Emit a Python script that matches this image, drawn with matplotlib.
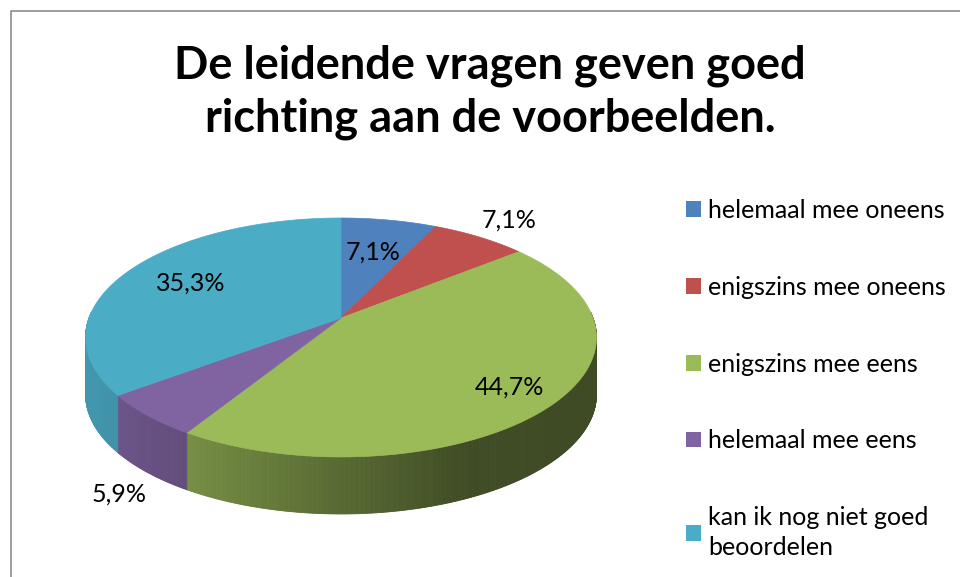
import numpy as np
import matplotlib
matplotlib.use("Agg")
import matplotlib.pyplot as plt
from matplotlib.patches import Patch
from matplotlib.colors import to_rgb

# ---- data ----
title = "De leidende vragen geven goed\nrichting aan de voorbeelden."
categories = ["helemaal mee oneens", "enigszins mee oneens", "enigszins mee eens",
              "helemaal mee eens", "kan ik nog niet goed\nbeoordelen"]
values = [7.1, 7.1, 44.7, 5.9, 35.3]
labels = ["7,1%", "7,1%", "44,7%", "5,9%", "35,3%"]
colors = ["#4f81bd", "#c0504d", "#9bbb59", "#8064a2", "#4bacc6"]

# ---- style / geometry ----
W, H = 960, 577
cx, cy = 341, 318          # pie centre (pixels)
R, RK, P = 252, 116.3, 0.163
DEPTH = 57
label_r = [0.64, 1.25, 0.815, 1.13, 0.7]
label_dy = [0, 0, 0, DEPTH + 7, 0]
FONT = "Lato"

fig = plt.figure(figsize=(W / 100, H / 100), dpi=100)
ax = fig.add_axes([0, 0, 1, 1])
ax.set_xlim(0, W)
ax.set_ylim(H, 0)
ax.axis("off")

def proj(theta, r=1.0, z=0.0):
    u = r * np.cos(theta)
    v = r * np.sin(theta)
    s = 1.0 / (1.0 + P * v)
    return cx + R * u * s, cy - RK * v * s + z

def shade(x):
    t = np.clip((x - 90) / (470 - 90), 0, 1)
    return 0.88 - 0.48 * t

vals = np.array(values, dtype=float)
frac = vals / vals.sum()
bounds = np.concatenate([[0], np.cumsum(frac)])
# clockwise from 12 o'clock
start_ang = np.pi / 2 - 2 * np.pi * bounds[:-1]
end_ang = np.pi / 2 - 2 * np.pi * bounds[1:]

# side walls
for a0, a1, col in zip(start_ang, end_ang, colors):
    ts = np.linspace(a0, a1, max(4, int(abs(a1 - a0) * 180)))
    base = np.array(to_rgb(col))
    for t0, t1 in zip(ts[:-1], ts[1:]):
        if np.sin(0.5 * (t0 + t1)) > 0.05:
            continue
        x0, y0 = proj(t0)
        x1, y1 = proj(t1)
        c = base * shade(0.5 * (x0 + x1))
        ax.fill([x0, x1, x1, x0], [y0, y1, y1 + DEPTH, y0 + DEPTH],
                color=c, lw=0.6, ec=c, zorder=2)

# top faces
handles = []
for a0, a1, col in zip(start_ang, end_ang, colors):
    ts = np.linspace(a0, a1, 200)
    xs, ys = proj(ts)
    xs = np.concatenate([[cx], xs])
    ys = np.concatenate([[cy], ys])
    ax.fill(xs, ys, color=col, lw=0.5, ec=col, zorder=3)
    handles.append(Patch(facecolor=col, edgecolor="none"))

# data labels
for a0, a1, lab, rf, dz in zip(start_ang, end_ang, labels, label_r, label_dy):
    mid = 0.5 * (a0 + a1)
    x, y = proj(mid, rf, dz)
    ax.text(x, y, lab, ha="center", va="center", fontsize=18,
            family=FONT, color="black", zorder=5)

# title
fig.text(490 / W, 1 - 92 / H, title, ha="center", va="center",
         fontsize=32.5, fontweight="bold", family=FONT, linespacing=1.3)

# legend
leg = fig.legend(handles, categories, loc="upper left",
                 bbox_to_anchor=(676 / W, 1 - 189 / H),
                 frameon=False, prop={"family": FONT, "size": 18},
                 handlelength=0.6, handleheight=0.6, handletextpad=0.28,
                 labelspacing=2.15, borderaxespad=0)
for t in leg.get_texts():
    t.set_linespacing(1.35)

# outer frame
ax.plot([10.5, 10.5, W + 5], [H + 5, 10.5, 10.5], color="#8c8c8c", lw=1.2,
        clip_on=False, zorder=1)

fig.savefig("out.png", dpi=100)
